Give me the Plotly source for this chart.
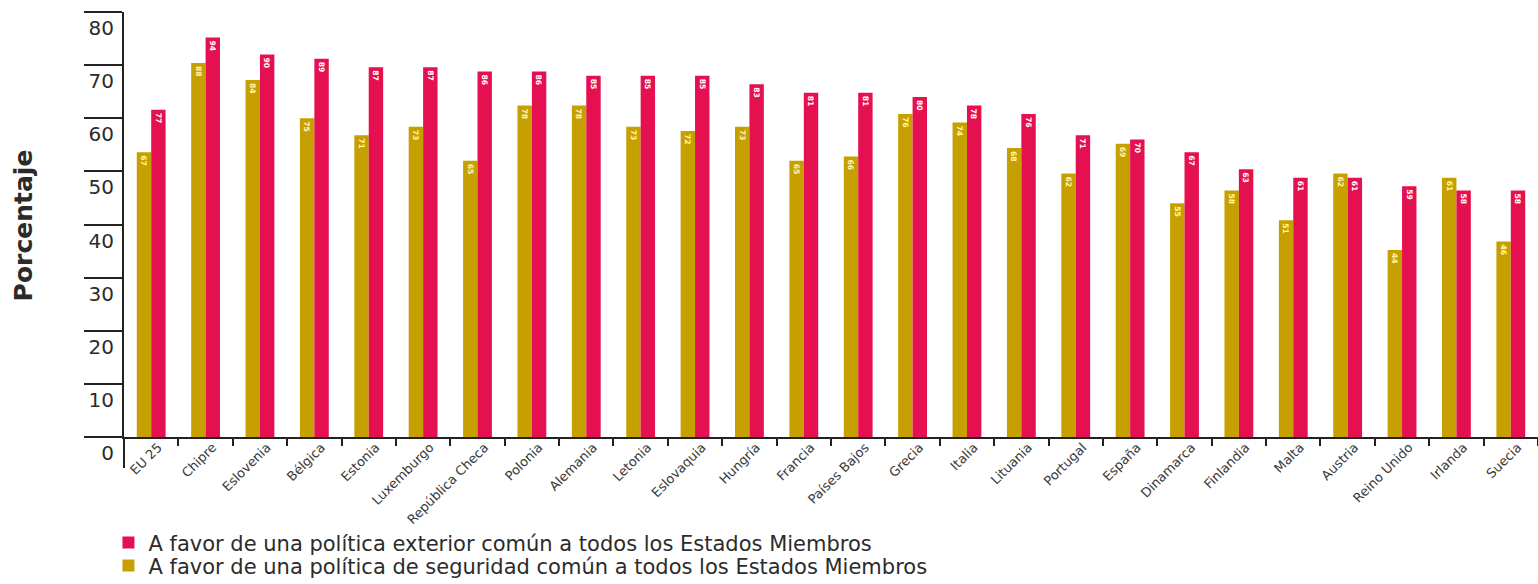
import plotly.graph_objects as go

# Países y porcentajes de apoyo
paises = ["EU 25", "Chipre", "Eslovenia", "Bélgica", "Estonia", "Luxemburgo",
          "República Checa", "Polonia", "Alemania", "Letonia", "Eslovaquia",
          "Hungría", "Francia", "Países Bajos", "Grecia", "Italia", "Lituania",
          "Portugal", "España", "Dinamarca", "Finlandia", "Malta", "Austria",
          "Reino Unido", "Irlanda", "Suecia"]

exterior = [77, 94, 90, 89, 87, 87, 86, 86, 85, 85, 85, 83, 81, 81, 80, 78,
            76, 71, 70, 67, 63, 61, 61, 59, 58, 58]

seguridad = [67, 88, 84, 75, 71, 73, 65, 78, 78, 73, 72, 73, 65, 66, 76, 74,
             68, 62, 69, 55, 58, 51, 62, 44, 61, 46]

eje_ticks = [0, 10, 20, 30, 40, 50, 60, 70, 80]

ROJO = "#E5104F"
AMARILLO = "#C6A000"
TEXTO = "#2b2b2b"
FUENTE = "DejaVu Sans, Verdana, sans-serif"

fig = go.Figure()

fig.add_trace(go.Bar(
    x=paises, y=seguridad, yaxis="y2", legend="legend2",
    name="A favor de una política de seguridad común a todos los Estados Miembros",
    marker=dict(color=AMARILLO, line=dict(width=0)),
    text=[str(v) for v in seguridad], textposition="inside",
    insidetextanchor="end", textangle=90,
    textfont=dict(color="#FFF6B0", size=10, family=FUENTE, weight="bold"),
))
fig.add_trace(go.Bar(
    x=paises, y=exterior, yaxis="y2", legend="legend",
    name="A favor de una política exterior común a todos los Estados Miembros",
    marker=dict(color=ROJO, line=dict(width=0)),
    text=[str(v) for v in exterior], textposition="inside",
    insidetextanchor="end", textangle=90,
    textfont=dict(color="white", size=10, family=FUENTE, weight="bold"),
))
# keeps the printed 0-80 scale axis active
fig.add_trace(go.Scatter(x=[], y=[], yaxis="y", showlegend=False,
                         hoverinfo="skip"))

leyenda = dict(
    x=-0.011, xanchor="left", yanchor="middle", orientation="v",
    font=dict(size=21, color=TEXTO, family=FUENTE),
    bgcolor="rgba(0,0,0,0)", borderwidth=0,
)

fig.update_layout(
    width=1538, height=584,
    margin=dict(l=124, r=0, t=12, b=147, autoexpand=False),
    paper_bgcolor="white", plot_bgcolor="white",
    font=dict(family=FUENTE, color=TEXTO),
    barmode="group", bargap=0.47, bargroupgap=0.0,
    showlegend=True,
    legend=dict(leyenda, y=-0.249),
    legend2=dict(leyenda, y=-0.303),
    xaxis=dict(
        type="category", tickson="boundaries", automargin=False,
        ticks="outside", ticklen=7, tickcolor="#222", tickwidth=1.5,
        showline=True, linecolor="#222", linewidth=1.5,
        showgrid=False, zeroline=False,
        tickangle=-45, tickfont=dict(size=13, color="#3a3a3a", family=FUENTE),
        ticklabelshift=7, ticklabelstandoff=-4,
    ),
    yaxis=dict(
        range=[0, 80], tickvals=eje_ticks, automargin=False,
        ticks="outside", ticklen=38, tickcolor="#222", tickwidth=1.5,
        showline=True, linecolor="#222", linewidth=2,
        showgrid=False, zeroline=False,
        tickfont=dict(size=20, color=TEXTO, family=FUENTE),
        ticklabelshift=16, ticklabelstandoff=-34,
    ),
    yaxis2=dict(
        range=[0, 100], overlaying="y", visible=False,
        showgrid=False, zeroline=False,
    ),
    annotations=[dict(
        text="<b>Porcentaje</b>", textangle=-90,
        xref="paper", yref="paper", x=-0.071, y=0.497,
        xanchor="center", yanchor="middle", showarrow=False,
        font=dict(size=25, color=TEXTO, family=FUENTE),
    )],
    shapes=[dict(
        type="line", xref="paper", yref="paper",
        x0=0, x1=0, y0=0, y1=-0.073,
        line=dict(color="#222", width=2),
    )],
)

fig.write_html("out.html")
